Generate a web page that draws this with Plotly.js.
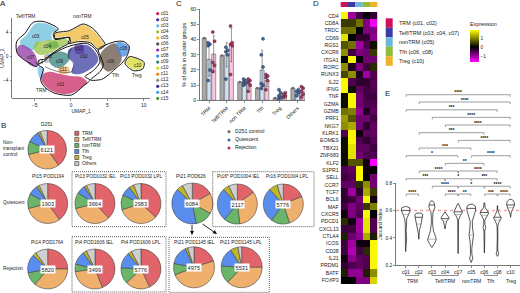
<!DOCTYPE html>
<html><head><meta charset="utf-8">
<script src="https://cdn.plot.ly/plotly-3.0.1.min.js"></script>
<style>html,body{margin:0;padding:0;background:#fff}#p{width:520px;height:293px}</style>
</head><body><div id="p"></div>
<script>
// ---------- Panel A data (UMAP coordinates) ----------
const clusterNames = ['c01','c02','c03','c04','c05','c06','c07','c08','c09','c10','c11','c12','c13','c14','c15'];
const clusterColors = ['#c8215e','#34389c','#62bcd8','#93bf3e','#efb52f','#5e4c3e','#8c2fa2','#3c84dc','#2f7f78','#d4d82c','#e88a1a','#8a8a8a','#4a209e','#3fa0e0','#4a9a30'];
const c01x=[-3.81,-2.89,-1.51,-0.14,1.47,2.25,1.47,0.09,-1.97,-3.35,-4.04], c01y=[-2.97,-2.58,-2.97,-3.31,-3.53,-4.43,-5.21,-6.22,-6.11,-5.21,-3.98];
const c02x=[0.41,2.16,3.30,3.76,2.84,1.24,0.09,0.41,-0.37,-0.37], c02y=[1.62,1.90,0.78,-0.62,-2.02,-2.97,-2.75,-1.18,-0.06,1.06];
const c03x=[-6.10,-4.95,-3.58,-1.88,-2.66,-2.66,-4.27,-5.18,-6.56,-7.02], c03y=[3.59,5.43,5.55,4.43,3.87,2.75,2.46,1.06,1.62,2.46];
const c04x=[-4.95,-2.89,-0.60,-0.37,-1.74,-2.89,-4.04,-4.95], c04y=[2.18,2.75,2.86,2.30,1.34,0.50,0.22,0.78];
const c05x=[-2.20,-0.37,1.70,2.84,3.90,4.54,3.76,2.61,1.01,-0.14,-0.37,-2.06], c05y=[3.75,4.15,5.27,4.54,3.19,1.90,1.34,2.46,2.63,2.30,3.31,3.19];
const c06x=[4.22,6.06,6.74,6.97,6.06,5.14,4.45,3.99], c06y=[0.78,2.18,0.78,-0.62,-2.02,-2.58,-2.02,-0.62];
const c07x=[-7.02,-6.10,-5.18,-4.72,-4.72,-5.64,-6.33,-7.25,-7.39], c07y=[1.90,1.62,0.78,-0.34,-1.74,-1.46,-0.62,0.22,1.34];
const c08x=[6.28,7.20,7.98,7.66,6.97,6.38], c08y=[2.30,2.30,1.62,0.22,-0.06,1.06];
const c09x=[-2.89,-1.74,-0.60,-0.14,-0.83,-1.74,-2.89], c09y=[0.22,0.78,0.50,-0.34,-1.46,-2.02,-1.18];
const c10x=[8.03,9.86,9.72,8.58,7.57], c10y=[-0.17,-1.01,-2.02,-2.18,-1.18];
const c11x=[-1.74,-0.37,-0.14,-1.51], c11y=[-2.02,-1.74,-2.58,-2.97];
const c12x=[-3.58,-2.89,-2.89,-3.58], c12y=[-0.06,0.06,-0.90,-1.06];
const c13x=[0.55,1.70,1.70,0.69], c13y=[1.90,1.90,0.50,0.50];
const c14x=[-4.50,-3.81,-4.04,-4.50], c14y=[-1.74,-2.02,-3.98,-3.12];
const c15x=[-3.12,-1.97,-1.74,-3.0], c15y=[2.18,2.46,1.62,1.34];
const blobX=[c01x,c02x,c03x,c04x,c05x,c06x,c07x,c08x,c09x,c10x,c11x,c12x,c13x,c14x,c15x];
const blobY=[c01y,c02y,c03y,c04y,c05y,c06y,c07y,c08y,c09y,c10y,c11y,c12y,c13y,c14y,c15y];
const teffLineX=[-7.48,-6.33,-5.18,-3.72,-1.74,-2.43,-2.20,-0.37,-0.05,-1.51,-2.89,-3.58,-4.36,-4.72,-5.64,-6.56,-7.39,-7.48], teffLineY=[2.46,3.87,5.71,5.83,4.59,3.87,2.86,3.14,2.46,1.34,0.22,-0.50,-0.62,-1.74,-1.18,-0.50,0.50,2.46];
const nonLineX=[-2.20,-0.23,1.70,2.98,3.99,4.72,3.76,2.61,1.01,-0.37,-0.14,-2.20,-2.20], nonLineY=[3.87,4.31,5.43,4.71,3.31,1.90,1.18,2.30,2.46,2.18,3.14,3.03,3.87];
const tfhLineX=[3.76,6.06,7.29,8.03,7.66,6.97,6.06,5.14,4.22,2.71,3.99,4.45,3.99,3.76], tfhLineY=[1.18,2.46,2.46,1.62,-0.06,-1.18,-2.13,-3.14,-3.87,-3.98,-2.58,-1.46,0.22,1.18];
const trmLineX=[-3.58,-2.89,-1.51,-0.14,2.16,3.44,3.99,3.07,1.93,2.61,1.70,0.09,-2.20,-3.58,-4.17,-3.81,-4.50,-3.58], trmLineY=[-0.73,0.06,1.06,1.74,2.18,1.06,-0.90,-2.41,-3.42,-3.98,-4.99,-6.50,-6.22,-5.21,-3.98,-2.02,-1.46,-0.73];
const trmInnerX=[-3.58,-1.74,0.09,0.32,-0.37,0.09], trmInnerY=[-1.74,-2.58,-2.58,-1.18,-0.06,1.34];
const tregLineX=[8.03,10.05,9.86,8.58,7.43,8.03], tregLineY=[-0.06,-1.01,-2.13,-2.41,-1.18,-0.06];
const labelNames=['c03','c04','c05','c07','c09','c01','c02','c06','c08','c10','c11','c12','c13','c14'];
const labelX=[-4.86,-3.26,1.93,-5.55,-1.60,-1.43,1.79,5.46,7.2,9.17,-1.05,-3.12,1.10,-4.36];
const labelY=[3.19,1.51,3.14,-0.22,-0.95,-4.82,-0.06,-0.90,1.18,-1.57,-2.3,-0.17,1.23,-1.18];

// ---------- Panel B data ----------
const pieLabels=['TRM','Teff/TRM','nonTRM','Tfh','Treg','Others'];
const pieColors=['#e1646a','#eeb06c','#6bb56a','#5a8eee','#bdb52a','#cfcfcf'];
const d251=[40,31,11,10,2,6], pt15=[40,31,12,8,2,7], pt13iel=[38,33,13,7,2,7], pt13lpl=[37,33,12,8,4,6];
const pt14=[25,36,11,15,3,10], pt4iel=[44,29,6,11,3,7], pt4lpl=[43,20,13,13,3,8];
const pt21a=[17,16,14,40,5,8], pt16iel=[15,33,13,27,5,7], pt16lpl=[19,26,15,28,7,5];
const pt21iel=[20,49,9,15,2,5], pt21lpl=[25,37,14,15,6,3];
const pieValues=[d251,pt15,pt13iel,pt13lpl,pt14,pt4iel,pt4lpl,pt21a,pt16iel,pt16lpl,pt21iel,pt21lpl];
const pieCounts=['6121','1903','3664','2983','5820','3499','5776','6084','2117','5776','4975','5531'];
const pieTitles=['D251','Pt15 POD1194','Pt13 POD1032 IEL','Pt13 POD1032 LPL','Pt14 POD1764','Pt4 POD1606 IEL','Pt4 POD1606 LPL','Pt21 POD626','Pt16* POD1004 IEL','Pt16 POD1004 LPL','Pt21 POD1145 IEL','Pt21 POD1145 LPL'];

// ---------- Panel C data ----------
const groupNames=['TRM','Teff/TRM','non TRM','Tfh','Treg','Others'];
const controlMean=[41,29.5,12,8,1.5,8];
const quiescentMean=[27,30,11.5,20,3.5,5];
const rejectionMean=[30.5,36.5,11,13,3,6];
const quiescentSd=[11,8,1.5,13,2.5,1.5];
const rejectionSd=[12,11,3,4,1.5,3];
const q0=[13,20,36,37,38], q1=[14,30,32,33,35], q2=[10,11,12,13,14], q3=[8,10,11,22,30,40.5], q4=[1,2,3,5,7], q5=[3,5,6,7];
const r0=[19,23,25,39,45], r1=[17,36,37,38,49], r2=[6,10,12,13,14], r3=[7,13,15,16,17], r4=[2,3,4,5], r5=[2,4,6,8,9];
const quiescentPts=[q0,q1,q2,q3,q4,q5], rejectionPts=[r0,r1,r2,r3,r4,r5];

// ---------- Panel D data ----------
const genes=['CD4','CD8A','TRDC','CD69','RGS1','CXCR6','ITGA1','RORC','RUNX3','IL22','IFNG','TNF','GZMA','GZMB','PRF1','NKG7','KLRK1','EOMES','TBX21','ZNF683','KLF2','S1PR1','SELL','CCR7','TCF7','BCL6','MAF','CXCR5','PDCD1','CXCL13','CTLA4','ICOS','CD28','IL21','PRDM1','BATF','FOXP3'];
const heatCols=['TRM','Teff/TRM','nonTRM','Tfh','Treg'];
const heatColColors=['#d0105f','#3a3aa8','#6cb8d8','#8fbc3a','#eeb32b'];
const heatValues=[
[1.75,-1.0,-0.4,0,-0.3],[0.4,0.4,0.8,-0.8,-1.5],[0.8,0.8,0,-0.8,-0.8],[1.6,0,-0.3,-0.3,-0.9],[0.6,0.8,-1.0,-0.5,0.1],
[1.0,-0.4,-0.8,-0.7,0.4],[0,1.75,0,-0.7,-0.7],[1.0,-0.2,-0.8,-0.4,0.3],[0.5,1.0,-0.2,-1.0,-0.5],[1.75,-0.5,-0.3,-0.3,-0.5],
[1.75,0.1,-0.6,-0.4,-0.5],[0.1,1.75,-0.7,-0.4,-0.4],[0.1,1.75,-0.7,-0.5,-0.5],[0.8,0.9,-0.9,-0.2,-0.6],[1.1,0.6,-0.7,-0.7,-0.4],
[1.0,1.2,-0.7,-0.3,-0.6],[-0.5,1.75,-0.1,-0.6,-0.6],[0.1,1.75,-0.5,-0.3,-0.5],[0.1,1.6,-0.6,-0.6,-0.4],[0.1,1.6,-0.7,-0.5,-0.5],
[0.1,0.6,0.6,-0.1,-1.6],[-0.5,-0.6,1.75,-0.1,0],[-0.4,-0.5,1.75,0,-0.7],[-0.6,-0.6,0.3,1.0,-0.7],[-0.3,-1.0,-0.3,1.2,0.4],
[-0.3,-0.4,-0.7,1.75,-0.1],[-0.4,-0.8,-0.6,0.4,0.9],[-0.1,-0.8,-0.5,1.75,0],[0.3,-0.1,-1.0,1.6,-0.5],[-0.4,-0.4,-1.0,1.6,-0.5],
[0.2,-0.7,-0.9,1.2,0.2],[-0.4,-1.0,-0.1,-0.1,1.75],[-0.4,-1.1,-0.4,0.3,1.75],[-0.1,-0.9,-0.6,-0.5,1.75],[-0.3,-0.5,-0.6,-0.5,1.75],
[0.2,-0.9,-0.9,0.2,1.0],[0,0,-0.8,-0.8,1.5]];
const heatLegendText=['TRM (c01, c02)','Teff/TRM (c03, c04, c07)','nonTRM (c05)','Tfh (c06, c08)','Treg (c10)'];

// ---------- Panel E data ----------
const violinNames=['c01','c02','c03','c04','c07','c05','c06','c08','c10'];
const v0y=[.63,.62,.6,.57,.54,.5,.45,.4,.36,.33,.30], v0w=[0,.30,.33,.22,.08,.03,.03,.07,.02,.02,0];
const v1y=[.58,.57,.55,.52,.49,.46,.43,.39], v1w=[.15,.30,.28,.22,.15,.05,.03,0];
const v2y=[.67,.65,.62,.59,.55,.5,.45,.41,.385,.36,.33], v2w=[.05,.2,.22,.08,.04,.05,.12,.28,.33,.2,0];
const v3y=[.59,.57,.545,.52,.49,.465], v3w=[0,.12,.32,.12,.04,0];
const v4y=[.65,.63,.61,.585,.565,.53,.45,.35,.285], v4w=[.02,.15,.22,.33,.18,.03,.02,.02,0];
const v5y=[.645,.63,.6,.56,.52,.47,.42,.37,.32,.28,.25,.22], v5w=[.1,.33,.33,.2,.08,.1,.17,.08,.04,.05,.12,0];
const v6y=[.655,.62,.6,.58,.56,.53,.5,.475,.45,.4,.35,.29], v6w=[.03,.06,.22,.33,.2,.04,.04,.1,.03,.03,.02,0];
const v7y=[.635,.6,.57,.545,.52,.49,.4,.33,.3,.283,.265], v7w=[.01,.03,.15,.3,.15,.03,.01,.02,.04,.1,0];
const v8y=[.68,.665,.64,.615,.59,.57,.55], v8w=[.1,.26,.3,.2,.06,.02,0];
const violinY=[v0y,v1y,v2y,v3y,v4y,v5y,v6y,v7y,v8y], violinW=[v0w,v1w,v2w,v3w,v4w,v5w,v6w,v7w,v8w];
const medianY=[.6,.55,.64,.54,.59,.615,.585,.55,.64];
const lowerQuartY=[.57,.5,.39,.52,.57,.42,.565,.53,.62];
const bracketFrom=[0,1,0,2,3,1,4,1,0,5,3,1,4,0,3,5,2,4,6,0,3,4,6,7];
const bracketTo=[8,8,7,8,8,6,8,5,4,8,6,4,7,3,5,7,4,6,8,1,4,5,7,8];
const bracketLevel=[1.445,1.392,1.335,1.28,1.224,1.168,1.112,1.056,1.0,1.0,.944,.888,.888,.832,.832,.832,.777,.777,.777,.72,.72,.72,.72,.72];
const bracketStars=['****','****','***','****','****','***','****','***','*','****','**','****','****','***','*','***','****','*','****','****','****','**','***','****'];

// ---------- helpers (pixel layout) ----------
const W=520,H=293,FONT='"Liberation Sans", Arial, sans-serif',INK='#222';
const dx=(a,b)=>[a/W,b/W], dy=(top,bot)=>[1-bot/H,1-top/H];
const traces=[];
const annots=[], shapes=[];
function txt(x,y,t,size,anchor,extra){annots.push(Object.assign({xref:'paper',yref:'paper',x:x/W,y:1-y/H,text:t,showarrow:false,xanchor:anchor||'center',yanchor:'middle',font:{family:FONT,size:size,color:INK},borderpad:0},extra||{}));}
function rect(x0,y0,x1,y1,fill,line,dash,lw){shapes.push({type:'rect',xref:'paper',yref:'paper',x0:x0/W,x1:x1/W,y0:1-y0/H,y1:1-y1/H,fillcolor:fill||'rgba(0,0,0,0)',line:{color:line||'rgba(0,0,0,0)',width:line?(lw||0.7):0,dash:dash||'solid'}});}

// Panel A
blobX.forEach((x,i)=>traces.push({type:'scatter',xaxis:'x',yaxis:'y',x:x.concat(x[0]),y:blobY[i].concat(blobY[i][0]),mode:'lines',fill:'toself',fillcolor:clusterColors[i],opacity:i>=10?0.5:0.72,line:{width:0,shape:'spline',smoothing:1},hoverinfo:'skip',showlegend:false,name:clusterNames[i]}));
[[teffLineX,teffLineY,1],[nonLineX,nonLineY,1],[tfhLineX,tfhLineY,1],[trmLineX,trmLineY,1],[trmInnerX,trmInnerY,.5],[tregLineX,tregLineY,1]].forEach(l=>traces.push({type:'scatter',xaxis:'x',yaxis:'y',x:l[0],y:l[1],mode:'lines',line:{color:'#111',width:l[2],shape:'spline',smoothing:.8},hoverinfo:'skip',showlegend:false}));
traces.push({type:'scatter',xaxis:'x',yaxis:'y',x:labelX,y:labelY,text:labelNames,mode:'text',textfont:{family:FONT,size:4.6,color:'#222'},hoverinfo:'skip',showlegend:false});
// A legend
traces.push({type:'scatter',xaxis:'x5',yaxis:'y5',x:clusterNames.map(()=>157.7),y:clusterNames.map((_,i)=>13.7+i*6.05),mode:'markers+text',text:clusterNames,textposition:'middle right',textfont:{family:FONT,size:4.8,color:INK},marker:{size:3.2,color:clusterColors},hoverinfo:'skip',showlegend:false});
[['Teff/TRM',25,16],['nonTRM',82,17],['Tfh',115,76],['Treg',137,75],['TRM',41,91]].forEach(t=>txt(t[1],t[2],t[0],4.8));

// Panel B pies
const pieCx=[47.2,47.7,95,141,47.7,95,141,192.3,237.3,283.3,194,241.7];
const pieCy=[149.7,203.5,203.5,203.5,269,269,269,203.5,204,204,267.3,267.3];
const pieR=[19.3,20,20,20,20,20,20,20.5,20,20,20.5,20.5];
const titleX=[47,47.7,95,141,47,94,141,191,238.7,287.3,194.3,241];
const titleY=[124,176.7,176.7,176.7,242.3,242.3,242.3,176.7,176.7,176.7,242.7,242.7];
pieValues.forEach((v,i)=>{
  traces.push({type:'pie',values:v,labels:pieLabels,sort:false,direction:'clockwise',rotation:0,textinfo:'none',hoverinfo:'skip',showlegend:false,
    marker:{colors:pieColors,line:{color:'#444',width:.6}},domain:{x:dx(pieCx[i]-pieR[i],pieCx[i]+pieR[i]),y:dy(pieCy[i]-pieR[i],pieCy[i]+pieR[i])}});
  txt(pieCx[i],pieCy[i],pieCounts[i],5.6,'center',{bgcolor:'#fff',borderpad:.6});
  txt(titleX[i],titleY[i],pieTitles[i],4.8);
});
txt(2,148,'Non-<br>transplant<br>control',4.8,'left',{align:'left'});
txt(2,202,'Quiescent',4.8,'left');
txt(2,268,'Rejection',4.8,'left');
pieLabels.forEach((l,i)=>{const y=133.3+i*6.05;rect(74.8,y-2,78.8,y+2,pieColors[i],'#444');txt(81,y,l,4.8,'left');});
rect(72,171.7,166,226.7,null,'#333','1px,1px',.8);
rect(72,236.7,166,292,null,'#333','1px,1px',.8);
rect(212.7,171.7,314,226.7,null,'#333','1px,1px',.8);
rect(169,237.3,269.3,292.3,null,'#333','1px,1px',.8);
annots.push({xref:'paper',yref:'paper',axref:'paper',ayref:'paper',x:192/W,y:1-235/H,ax:192/W,ay:1-223.5/H,showarrow:true,arrowhead:2,arrowsize:.9,arrowwidth:.9,arrowcolor:'#111',text:''});
annots.push({xref:'paper',yref:'paper',axref:'paper',ayref:'paper',x:217/W,y:1-234/H,ax:201/W,ay:1-223/H,showarrow:true,arrowhead:2,arrowsize:.9,arrowwidth:.9,arrowcolor:'#111',text:''});

// Panel C
const pos=groupNames.map((_,i)=>i);
const barOff=[-.265,0,.265], barW=.23;
[[controlMean,'#a9a9a9',null],[quiescentMean,'#cfe3f5',quiescentSd],[rejectionMean,'#f6c6dc',rejectionSd]].forEach((b,k)=>traces.push({type:'bar',xaxis:'x2',yaxis:'y2',x:pos.map(p=>p+barOff[k]),y:b[0],width:barW,marker:{color:b[1],line:{color:'#444',width:.5}},error_y:b[2]?{type:'data',array:b[2],visible:true,thickness:.5,width:1,color:'#333'}:{visible:false},hoverinfo:'skip',showlegend:false}));
traces.push({type:'scatter',xaxis:'x2',yaxis:'y2',x:pos.map(p=>p+barOff[0]),y:controlMean,mode:'markers',marker:{size:2.6,color:'#666'},hoverinfo:'skip',showlegend:false});
function dots(pts,off,col){const xs=[],ys=[];pts.forEach((a,g)=>a.forEach((v,j)=>{xs.push(g+off+(j%2?.05:-.05));ys.push(v);}));traces.push({type:'scatter',xaxis:'x2',yaxis:'y2',x:xs,y:ys,mode:'markers',marker:{size:3,color:col,line:{color:'#223',width:.5}},hoverinfo:'skip',showlegend:false});}
dots(quiescentPts,barOff[1],'#3f6fb5');
dots(rejectionPts,barOff[2],'#c43264');
traces.push({type:'scatter',xaxis:'x5',yaxis:'y5',x:[229,229,229],y:[131.7,140,148],mode:'markers+text',text:['  D251 control','  Quiescent','  Rejection'],textposition:'middle right',textfont:{family:FONT,size:5.2,color:INK},marker:{size:3.2,color:['#777','#3f6fb5','#c43264']},hoverinfo:'skip',showlegend:false});

// Panel D
traces.push({type:'heatmap',xaxis:'x3',yaxis:'y3',x:heatCols,y:genes,z:heatValues,zmin:-1.6,zmax:1.8,
  colorscale:[[0,'#ff00ff'],[.47,'#000000'],[1,'#ffff00']],hoverinfo:'skip',
  colorbar:{x:470/W,xanchor:'left',xpad:0,y:1-62.3/H,yanchor:'bottom',ypad:0,len:43,lenmode:'pixels',thickness:9,thicknessmode:'pixels',outlinewidth:0,tickvals:[-1,0,1],ticks:'',tickfont:{family:FONT,size:4.8,color:INK},title:{text:'Expression',side:'top',font:{family:FONT,size:5.4,color:INK}}}});
heatColColors.forEach((c,i)=>rect(340.7+i*7.32,2,340.7+(i+1)*7.32,7,c));
heatColColors.forEach((c,i)=>{const y=18.3+i*9.5;rect(385.7,y,392.7,y+9.5,c);txt(397.7,y+4.75,heatLegendText[i],5.5,'left');});

// Panel E
traces.push({type:'scatter',xaxis:'x4',yaxis:'y4',x:[-.74,8.72],y:[.6,.6],mode:'lines',line:{color:'#f4a3a3',width:1.4,dash:'dot'},hoverinfo:'skip',showlegend:false});
function widthAt(ys,ws,y){for(let i=0;i<ys.length-1;i++){if(y<=ys[i]&&y>=ys[i+1]){const t=(ys[i]-y)/(ys[i]-ys[i+1]);return ws[i]+t*(ws[i+1]-ws[i]);}}return 0;}
violinY.forEach((ys,i)=>{
  const ws=violinW[i];
  traces.push({type:'scatter',xaxis:'x4',yaxis:'y4',x:ws.map(w=>i-w).concat(ws.slice().reverse().map(w=>i+w),[i-ws[0]]),y:ys.concat(ys.slice().reverse(),[ys[0]]),mode:'lines',fill:'toself',fillcolor:'#fff',line:{color:'#111',width:.7},hoverinfo:'skip',showlegend:false,name:violinNames[i]});
  [[medianY[i],'#111',.7],[lowerQuartY[i],'#777',.5]].forEach(m=>{const w=widthAt(ys,ws,m[0]);traces.push({type:'scatter',xaxis:'x4',yaxis:'y4',x:[i-w,i+w],y:[m[0],m[0]],mode:'lines',line:{color:m[1],width:m[2]},hoverinfo:'skip',showlegend:false});});
});
const bx=[],by=[];bracketFrom.forEach((a,i)=>{const b=bracketTo[i],y=bracketLevel[i];bx.push(a+.03,a+.03,b-.03,b-.03,null);by.push(y-.015,y,y,y-.015,null);});
traces.push({type:'scatter',xaxis:'x6',yaxis:'y6',x:bx,y:by,mode:'lines',line:{color:'#777',width:.7},hoverinfo:'skip',showlegend:false});
traces.push({type:'scatter',xaxis:'x6',yaxis:'y6',x:bracketFrom.map((a,i)=>(a+bracketTo[i])/2),y:bracketLevel.map(v=>v+.012),mode:'text',text:bracketStars.map(s=>'<b>'+s+'</b>'),textfont:{family:FONT,size:5,color:'#111'},hoverinfo:'skip',showlegend:false});
[[0,1,'TRM'],[2,4,'Teff/TRM'],[5,5,'nonTRM'],[6,7,'Tfh'],[8,8,'Treg']].forEach(g=>{
  if(g[1]>g[0]){shapes.push({type:'path',xref:'x4',yref:'paper',path:`M ${g[0]} ${1-273.2/H} L ${g[0]} ${1-275.5/H} L ${g[1]} ${1-275.5/H} L ${g[1]} ${1-273.2/H}`,line:{color:'#444',width:.6}});}
  annots.push({xref:'x4',yref:'paper',x:(g[0]+g[1])/2,y:1-280.5/H,text:g[2],showarrow:false,yanchor:'middle',font:{family:FONT,size:5,color:INK},borderpad:0});
});

// panel letters
[['A',3,4],['B',3,126],['C',179,4],['D',316,4],['E',387,93]].forEach(t=>txt(t[1],t[2],t[0],8));

const axBase={showgrid:false,zeroline:false,tickfont:{family:FONT,size:4.8,color:INK},ticklen:2,tickwidth:.6,tickcolor:'#444',linecolor:'#555',linewidth:.8,ticks:'outside',showline:true};
const layout={width:W,height:H,margin:{l:0,r:0,t:0,b:0},paper_bgcolor:'#fff',plot_bgcolor:'rgba(0,0,0,0)',showlegend:false,barmode:'overlay',annotations:annots,shapes:shapes,font:{family:FONT},
  xaxis:Object.assign({},axBase,{domain:dx(12.3,150),range:[-8.07,10.87],tickvals:[-5,0,5,10],title:{text:'UMAP_1',standoff:2,font:{family:FONT,size:4.8,color:INK}}}),
  yaxis:Object.assign({},axBase,{domain:dy(18,98.3),range:[-7.06,6.44],tickvals:[-4,0,4],title:{text:'UMAP_2',standoff:2,font:{family:FONT,size:4.8,color:INK}}}),
  xaxis2:Object.assign({},axBase,{domain:dx(200,305),range:[-.508,5.42],tickvals:pos,ticktext:groupNames,tickangle:-45,tickfont:{family:FONT,size:5.2,color:INK},anchor:'y2'}),
  yaxis2:Object.assign({},axBase,{domain:dy(9.3,100.3),range:[0,60],tickvals:[0,10,20,30,40,50,60],anchor:'x2',tickfont:{family:FONT,size:5.2,color:INK},title:{text:'% of cells in cluster groups',standoff:3,font:{family:FONT,size:5.4,color:INK}}}),
  xaxis3:{domain:dx(340.7,377.3),anchor:'y3',visible:false,type:'category'},
  yaxis3:{domain:dy(12,284),anchor:'x3',type:'category',autorange:'reversed',showgrid:false,zeroline:false,showline:false,ticks:'',tickmode:'array',tickvals:genes,ticktext:genes,tickfont:{family:FONT,size:5.2,color:INK},ticklabelstandoff:1},
  xaxis4:Object.assign({},axBase,{domain:dx(396,520),range:[-.74,8.72],anchor:'y4',tickvals:violinNames.map((_,i)=>i),ticktext:violinNames,tickfont:{family:FONT,size:5,color:INK}}),
  yaxis4:Object.assign({},axBase,{domain:dy(183,265.3),range:[.2,.8],anchor:'x4',tickvals:[.2,.4,.6,.8],tickformat:'.1f',title:{text:'Jaccard Index',standoff:2,font:{family:FONT,size:5,color:INK}}}),
  xaxis5:{domain:[0,1],range:[0,W],anchor:'y5',visible:false,fixedrange:true},
  yaxis5:{domain:[0,1],range:[H,0],anchor:'x5',visible:false,fixedrange:true},
  xaxis6:{domain:dx(396,520),range:[-.74,8.72],anchor:'y6',visible:false,fixedrange:true},
  yaxis6:{domain:dy(87.2,265.3),range:[.2,1.5],anchor:'x6',visible:false,fixedrange:true}
};
Plotly.newPlot('p',traces,layout,{staticPlot:true,displayModeBar:false});
</script></body></html>
